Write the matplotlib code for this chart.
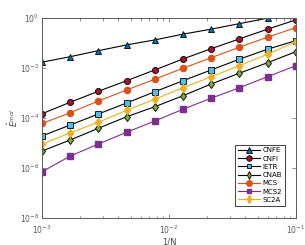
import matplotlib
matplotlib.use('Agg')
import matplotlib.pyplot as plt
from matplotlib.ticker import LogLocator, NullFormatter, NullLocator

# 1/N values (10 grid sizes)
inv_n = [1.0e-3, 1.668e-3, 2.783e-3, 4.642e-3, 7.743e-3,
         1.292e-2, 2.154e-2, 3.594e-2, 5.995e-2, 1.0e-1]

# error values
err_cnfe = [1.70e-2, 2.82e-2, 4.90e-2, 8.32e-2, 1.32e-1,
            2.24e-1, 3.55e-1, 5.89e-1, 9.77e-1]
err_cnfi = [1.48e-4, 4.27e-4, 1.17e-3, 3.09e-3, 8.32e-3,
            2.29e-2, 5.89e-2, 1.45e-1, 3.55e-1, 8.32e-1]
err_ietr = [1.91e-5, 5.25e-5, 1.45e-4, 3.98e-4, 1.12e-3,
            3.09e-3, 8.32e-3, 2.24e-2, 5.62e-2, 1.23e-1]
err_cnab = [4.79e-6, 1.32e-5, 3.89e-5, 1.12e-4, 2.82e-4,
            7.76e-4, 2.29e-3, 6.17e-3, 1.62e-2, 4.47e-2]
err_mcs = [6.03e-5, 1.62e-4, 4.79e-4, 1.32e-3, 3.55e-3,
           9.77e-3, 2.57e-2, 6.76e-2, 1.70e-1, 4.07e-1]
err_mcs2 = [7.08e-7, 3.02e-6, 9.12e-6, 2.69e-5, 7.59e-5,
            2.24e-4, 6.17e-4, 1.62e-3, 4.47e-3, 1.23e-2]
err_sc2a = [8.91e-6, 2.57e-5, 6.76e-5, 2.04e-4, 5.62e-4,
            1.62e-3, 4.47e-3, 1.23e-2, 3.55e-2, 1.12e-1]

labels = ['CNFE', 'CNFI', 'IETR', 'CNAB', 'MCS', 'MCS2', 'SC2A']

fig = plt.figure(figsize=(3.05, 2.45), dpi=100)
ax = fig.add_axes([0.138, 0.110, 0.832, 0.817])

ms = 4.4
lw = 0.8
ax.loglog(inv_n[:len(err_cnfe)], err_cnfe, '-^', color='black', lw=lw, ms=ms,
          mfc='#0072BD', mec='black', mew=0.6, label=labels[0])
ax.loglog(inv_n, err_cnfi, '-o', color='black', lw=lw, ms=ms,
          mfc='#A2142F', mec='black', mew=0.6, label=labels[1])
ax.loglog(inv_n, err_ietr, '-s', color='black', lw=lw, ms=ms - 0.8,
          mfc='#4DBEEE', mec='black', mew=0.6, label=labels[2])
ax.loglog(inv_n, err_cnab, '-d', color='black', lw=lw, ms=ms,
          mfc='#77AC30', mec='black', mew=0.6, label=labels[3])
ax.loglog(inv_n, err_mcs, '-o', color='#D95319', lw=lw, ms=ms,
          mfc='#D95319', mec='#D95319', label=labels[4])
ax.loglog(inv_n, err_mcs2, '-s', color='#7E2F8E', lw=lw, ms=ms - 0.8,
          mfc='#7E2F8E', mec='#7E2F8E', label=labels[5])
ax.loglog(inv_n, err_sc2a, '-d', color='#EDB120', lw=lw, ms=ms,
          mfc='#EDB120', mec='#EDB120', label=labels[6])

ax.set_xlim(1e-3, 1e-1)
ax.set_ylim(1e-8, 1e0)

ax.set_yticks([1e-8, 1e-6, 1e-4, 1e-2, 1e0])
ax.yaxis.set_minor_locator(NullLocator())
ax.xaxis.set_minor_locator(LogLocator(base=10, subs=range(2, 10), numticks=20))
ax.xaxis.set_minor_formatter(NullFormatter())

axcol = '#5a5a5a'
for s in ax.spines.values():
    s.set_color(axcol)
    s.set_linewidth(0.7)
ax.tick_params(which='both', direction='in', top=True, right=True,
               colors=axcol, labelsize=5.5, width=0.5)
ax.tick_params(which='major', length=3)
ax.tick_params(which='minor', length=1.8)
ax.tick_params(axis='x', pad=4)
ax.tick_params(axis='y', pad=2)

ax.set_xlabel('1/N', fontsize=6, color='#444444', labelpad=1)
ax.set_ylabel(r'$\hat{E}^{mol}$', fontsize=6, color='#444444', labelpad=0)

leg = ax.legend(loc='lower right', fontsize=5.0, frameon=True, fancybox=False,
                handlelength=3.2, borderpad=0.4, labelspacing=0.32,
                handletextpad=0.3, bbox_to_anchor=(0.97, 0.045),
                markerscale=0.9)
leg.get_frame().set_edgecolor('#222222')
leg.get_frame().set_linewidth(0.6)
leg.get_frame().set_alpha(1)

fig.savefig('out.png', dpi=100, facecolor='white')
